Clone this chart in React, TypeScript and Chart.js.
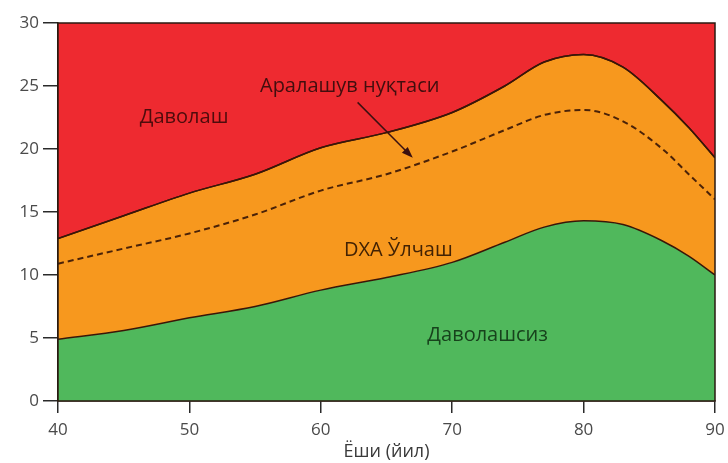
import React, { useEffect, useRef } from "react";
import { Chart, registerables } from "chart.js";

Chart.register(...registerables);

const ages = [40, 45, 50, 55, 60, 65, 70, 74, 77, 80, 83, 86, 88, 90];
const lowerCurve = [4.9, 5.6, 6.6, 7.5, 8.8, 9.8, 11.0, 12.6, 13.8, 14.3, 14.0, 12.7, 11.5, 10.0];
const upperCurve = [12.9, 14.7, 16.5, 18.0, 20.1, 21.3, 22.9, 25.0, 26.9, 27.5, 26.5, 23.8, 21.7, 19.3];
const interventionCurve = [10.9, 12.1, 13.3, 14.8, 16.7, 18.0, 19.8, 21.5, 22.7, 23.1, 22.2, 20.0, 18.0, 16.0];
const xTicks = [40, 50, 60, 70, 80, 90];
const yTicks = [0, 5, 10, 15, 20, 25, 30];
const xTitle = "Ёши (йил)";

const regionLabels = [
  { text: "Даволаш", x: 49.6, y: 22.5, color: "#4e0c0c" },
  { text: "Аралашув нуқтаси", x: 62.2, y: 25.0, color: "#420e0e" },
  { text: "DXA Ўлчаш", x: 65.9, y: 12.0, color: "#422204" },
  { text: "Даволашсиз", x: 72.7, y: 5.25, color: "#17421c" },
];
const arrowFrom = { x: 62.8, y: 23.7 };
const arrowTo = { x: 67.0, y: 19.3 };

const LINE = "#3a1608";

const overlayPlugin = {
  id: "overlay",
  afterDatasetsDraw(chart: any) {
    const { ctx, chartArea, scales } = chart;
    const xs = scales.x;
    const ys = scales.y;
    ctx.save();
    ctx.strokeStyle = "#2a1a10";
    ctx.lineWidth = 1.5;
    ctx.strokeRect(chartArea.left, chartArea.top, chartArea.right - chartArea.left, chartArea.bottom - chartArea.top);
    ctx.font = "500 20px 'Open Sans'";
    ctx.textAlign = "center";
    ctx.textBaseline = "middle";
    for (const l of regionLabels) {
      ctx.fillStyle = l.color;
      ctx.fillText(l.text, xs.getPixelForValue(l.x), ys.getPixelForValue(l.y));
    }
    const x1 = xs.getPixelForValue(arrowFrom.x);
    const y1 = ys.getPixelForValue(arrowFrom.y);
    const x2 = xs.getPixelForValue(arrowTo.x);
    const y2 = ys.getPixelForValue(arrowTo.y);
    const ang = Math.atan2(y2 - y1, x2 - x1);
    const head = 12;
    ctx.strokeStyle = "#3a1010";
    ctx.fillStyle = "#3a1010";
    ctx.lineWidth = 1.5;
    ctx.beginPath();
    ctx.moveTo(x1, y1);
    ctx.lineTo(x2 - Math.cos(ang) * head * 0.8, y2 - Math.sin(ang) * head * 0.8);
    ctx.stroke();
    ctx.beginPath();
    ctx.moveTo(x2, y2);
    ctx.lineTo(x2 - head * Math.cos(ang - 0.35), y2 - head * Math.sin(ang - 0.35));
    ctx.lineTo(x2 - head * Math.cos(ang + 0.35), y2 - head * Math.sin(ang + 0.35));
    ctx.closePath();
    ctx.fill();
    ctx.restore();
  },
};

export default function App() {
  const ref = useRef<HTMLCanvasElement>(null);
  useEffect(() => {
    if (!ref.current) return;
    const pts = (arr: number[]) => ages.map((a, i) => ({ x: a, y: arr[i] }));
    const chart = new Chart(ref.current, {
      type: "line",
      data: {
        datasets: [
          {
            label: "lower",
            data: pts(lowerCurve),
            fill: "origin",
            backgroundColor: "rgb(80,184,92)",
            borderColor: LINE,
            borderWidth: 1.5,
            pointRadius: 0,
            cubicInterpolationMode: "monotone",
          },
          {
            label: "upper",
            data: pts(upperCurve),
            fill: "-1",
            backgroundColor: "rgb(247,152,30)",
            borderColor: LINE,
            borderWidth: 1.5,
            pointRadius: 0,
            cubicInterpolationMode: "monotone",
          },
          {
            label: "upperRed",
            data: pts(upperCurve),
            fill: "end",
            backgroundColor: "rgb(238,42,48)",
            borderColor: LINE,
            borderWidth: 1.5,
            pointRadius: 0,
            cubicInterpolationMode: "monotone",
          },
          {
            label: "intervention",
            data: pts(interventionCurve),
            fill: false,
            borderColor: "#4a2208",
            borderWidth: 2,
            borderDash: [6, 4],
            pointRadius: 0,
            cubicInterpolationMode: "monotone",
          },
        ],
      },
      options: {
        animation: false,
        responsive: true,
        maintainAspectRatio: false,
        layout: { padding: { top: 23, right: 13, left: 0, bottom: 0 } },
        plugins: {
          legend: { display: false },
          tooltip: { enabled: false },
          filler: { drawTime: "beforeDatasetsDraw" },
        },
        scales: {
          x: {
            type: "linear",
            min: 40,
            max: 90,
            afterBuildTicks: (s: any) => {
              s.ticks = xTicks.map((v) => ({ value: v }));
            },
            afterFit: (s: any) => {
              s.height = 62;
              s.paddingLeft = 0;
              s.paddingRight = 0;
            },
            grid: { drawOnChartArea: false, drawTicks: true, tickLength: 12, color: "#2a2a2a", lineWidth: 1.5 },
            border: { display: true, color: "#2a1a10", width: 1.5 },
            ticks: { color: "#4a4a4a", font: { family: "'Open Sans'", size: 17 }, padding: 7 },
            title: {
              display: true,
              text: xTitle,
              color: "#3a3a3a",
              font: { family: "'Open Sans'", size: 18 },
              padding: { top: 5, bottom: 0 },
            },
          },
          y: {
            min: 0,
            max: 30,
            afterBuildTicks: (s: any) => {
              s.ticks = yTicks.map((v) => ({ value: v }));
            },
            afterFit: (s: any) => {
              s.width = 58;
              s.paddingTop = 0;
              s.paddingBottom = 0;
            },
            grid: { drawOnChartArea: false, drawTicks: true, tickLength: 15, color: "#2a2a2a", lineWidth: 1.5 },
            border: { display: true, color: "#2a1a10", width: 1.5 },
            ticks: { color: "#4a4a4a", font: { family: "'Open Sans'", size: 17 }, padding: 4 },
          },
        },
      },
      plugins: [overlayPlugin],
    } as any);
    return () => chart.destroy();
  }, []);
  return (
    <div style={{ position: "fixed", left: 0, top: 0, width: 728, height: 463, background: "#fff" }}>
      <canvas ref={ref} />
    </div>
  );
}
